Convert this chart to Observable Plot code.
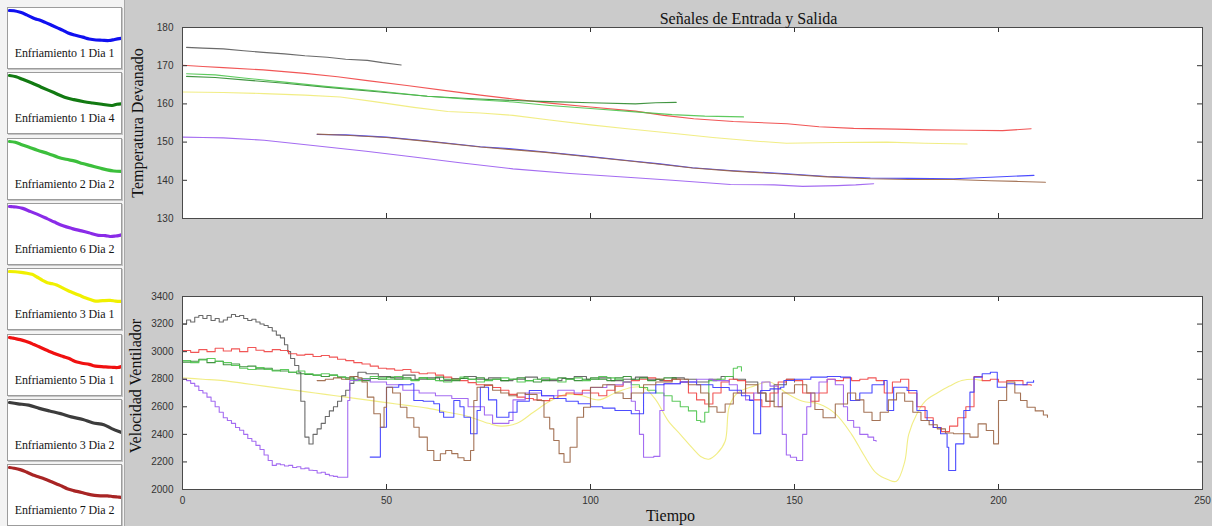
<!DOCTYPE html>
<html><head><meta charset="utf-8">
<script src="https://cdn.jsdelivr.net/npm/d3@7"></script>
<script src="https://cdn.jsdelivr.net/npm/@observablehq/plot@0.6"></script>
<style>
body{margin:0;background:#cccccc;}
#root{position:relative;width:1212px;height:526px;background:#cbcbcb;overflow:hidden;}
#legend{position:absolute;left:0;top:0;width:124px;height:526px;background:#f3f3f3;border-right:1px solid #a8a8a8;}
.btn{position:absolute;left:7px;width:113px;height:60px;background:#fff;border:1px solid #9c9c9c;box-shadow:1px 1px 0 #c4c4c4;overflow:hidden;}
.btn svg{position:absolute;left:0;top:0;}
.lbl{position:absolute;left:0;width:113px;top:38px;text-align:center;font:12px "Liberation Serif",serif;color:#151515;white-space:nowrap;letter-spacing:-0.1px;}
.panel{position:absolute;left:130px;}
</style></head>
<body>
<div id="root"><div id="legend"></div><div id="top" class="panel" style="top:0"></div><div id="bot" class="panel" style="top:270px"></div></div>
<script>
// ---- categories / labels ----
const runNames = ["Enfriamiento 1 Dia 1","Enfriamiento 1 Dia 4","Enfriamiento 2 Dia 2","Enfriamiento 6 Dia 2","Enfriamiento 3 Dia 1","Enfriamiento 5 Dia 1","Enfriamiento 3 Dia 2","Enfriamiento 7 Dia 2"];
const iconColors = ["#1010f0","#127a12","#3cbf3c","#8a2be8","#f0f000","#f01010","#3c3c3c","#a82424"];
const lineColors = ["#3838ff","#2e8a2e","#4cc44c","#9a5cf0","#efeb78","#f04444","#5a5a5a","#9a6444"];
const titleText = "Señales de Entrada y Salida";
const yLabelTop = "Temperatura Devanado";
const yLabelBot = "Velocidad Ventilador";
const xLabel = "Tiempo";
const timeTicks = [0,50,100,150,200,250];
const tempTicks = [130,140,150,160,170,180];
const fanTicks = [2000,2200,2400,2600,2800,3000,3200,3400];

// ---- temperature series [tiempo, temperatura] ----
const temp_1d1 = [[33,152.0],[40,151.9],[50,151.3],[60,150.3],[73,148.8],[80,148.3],[89,147.4],[100,146.2],[109,145.2],[117,144.3],[125,143.3],[135,142.5],[148,141.7],[158,141.0],[168.6,140.6],[178,140.5],[189,140.4],[198,140.8],[208.7,141.3]];
const temp_1d4 = [[1,167.2],[8,166.9],[15,166.3],[25,165.4],[35,164.4],[48.5,163.1],[60,162.0],[70,161.4],[81,160.9],[90,160.6],[100,160.3],[111,160.0],[116,160.3],[121,160.4]];
const temp_2d2 = [[1,167.9],[8,167.6],[15,166.8],[25,165.7],[35,164.6],[48.5,163.3],[60,162.0],[70,161.2],[81,160.5],[90,159.6],[100,158.8],[111,157.9],[120,157.2],[128,156.8],[137.5,156.6]];
const temp_6d2 = [[0,151.3],[5,151.2],[10,151.1],[20,150.5],[32,149.1],[45,147.6],[56.7,146.1],[68,144.6],[81,143.0],[95,141.8],[109,140.8],[120,140.0],[134.3,138.9],[145,138.8],[152,138.4],[160.5,138.6],[165,138.8],[169.4,139.1]];
const temp_3d1 = [[0,163.1],[10,163.0],[20,162.7],[30,162.3],[38.7,161.8],[47,160.6],[56.7,159.1],[65,158.0],[73,157.6],[81,157.0],[90,155.8],[100,154.5],[109,153.5],[120,152.3],[130,151.2],[140,150.3],[148,149.7],[160,149.9],[172.7,150.0],[182,149.7],[192.3,149.5]];
const temp_5d1 = [[0,170.1],[5,169.8],[10,169.5],[19.8,168.9],[30,168.0],[38,167.1],[45.3,166.1],[55,164.8],[65,163.4],[73,162.3],[81,161.3],[90,160.2],[100,159.2],[111,158.1],[118,157.0],[125.3,156.1],[135,155.4],[148.2,154.8],[156,154.0],[164.5,153.6],[175,153.4],[183.3,153.2],[192,153.1],[201,153.0],[208,153.5]];
const temp_3d2 = [[1,174.8],[5,174.6],[10,174.4],[15,173.9],[19.8,173.5],[25,173.1],[30,172.6],[35.5,172.2],[40,171.7],[45.3,171.4],[49,170.8],[53.6,170.2]];
const temp_7d2 = [[33,152.1],[40,151.8],[50,151.2],[60,150.2],[73,148.7],[80,148.1],[89,147.3],[100,146.1],[109,145.1],[117,144.2],[125,143.2],[135,142.4],[148,141.6],[158,140.9],[168.6,140.4],[178,140.2],[189,140.2],[198,139.9],[205,139.7],[211.5,139.5]];

// ---- fan speed series [tiempo, velocidad] ----
const fan_1d1 = [[46,2235],[48.5,2452],[50,2742],[53,2760],[56,2767],[56.7,2646],[59,2640],[61.6,2622],[63,2560],[64,2524],[66.5,2646],[68,2600],[69,2524],[70.6,2404],[72.2,2573],[73,2742],[75,2650],[77,2524],[80,2560],[82,2640],[85,2718],[88,2680],[91,2660],[94,2640],[97,2622],[100,2600],[103,2590],[106,2573],[110,2549],[113,2700],[116,2760],[118,2767],[122,2780],[126,2760],[130,2740],[134,2720],[137,2680],[139,2646],[140,2404],[141.7,2718],[144,2730],[146.6,2742],[147.4,2791],[150,2800],[154,2815],[158,2820],[161.3,2815],[163.7,2646],[166,2700],[169,2760],[171.9,2791],[172.7,2573],[174.3,2742],[177.6,2718],[180,2573],[182.5,2500],[184,2450],[185.8,2404],[187.4,2307],[187.8,2138],[189,2138],[189.5,2331],[191.5,2573],[193,2706],[194,2815],[196,2840],[198,2851],[199.7,2742],[202,2767],[204,2760],[207,2778],[208.6,2791]];
const fan_1d4 = [[0,2924],[2,2930],[4,2945],[6,2920],[8,2930],[10,2905],[12,2910],[14,2890],[16,2895],[18,2875],[20,2880],[22,2865],[24,2860],[26,2850],[28,2840],[30,2835],[32,2830],[34,2820],[36,2830],[38,2815],[40,2810],[42,2800],[44,2790],[46,2805],[48,2800],[50,2815],[52,2800],[54,2810],[56,2795],[58,2810],[60,2800],[62,2815],[64,2800],[66,2790],[68,2805],[70,2800],[72,2810],[74,2795],[76,2800],[78,2790],[80,2800],[82,2810],[84,2790],[86,2780],[88,2790],[90,2800],[92,2810],[94,2800],[96,2790],[98,2800],[100,2810],[102,2800],[104,2790],[106,2810],[108,2820],[110,2800],[112,2810],[114,2790],[116,2800],[118,2810],[121,2800]];
const fan_2d2 = [[0,2935],[2,2920],[4,2940],[6,2950],[8,2930],[10,2920],[12,2900],[14,2880],[16,2870],[18,2885],[20,2870],[22,2860],[24,2870],[26,2850],[28,2860],[30,2840],[32,2830],[34,2840],[36,2830],[38,2815],[40,2800],[42,2790],[44,2805],[46,2820],[48,2810],[50,2800],[52,2820],[54,2800],[56,2790],[58,2810],[60,2800],[62,2790],[64,2780],[66,2800],[68,2815],[70,2800],[72,2780],[74,2790],[76,2800],[78,2810],[80,2800],[82,2780],[84,2790],[86,2800],[88,2810],[90,2800],[92,2780],[94,2800],[96,2810],[98,2790],[100,2800],[102,2820],[104,2810],[106,2800],[108,2780],[110,2760],[112,2740],[114,2720],[116,2700],[118,2680],[120,2640],[122,2600],[124,2570],[126,2500],[127,2490],[128,2560],[129,2790],[131,2800],[133,2820],[135,2880],[136,2890],[137,2860]];
const fan_6d2 = [[0,2800],[1,2790],[2,2770],[3,2750],[4,2718],[5,2700],[6,2670],[7,2640],[8,2600],[9,2560],[10,2520],[11,2500],[12,2480],[13,2450],[14,2430],[15,2400],[16,2370],[17,2350],[18,2320],[19,2290],[20,2250],[21,2210],[22,2175],[23,2186],[24,2180],[25,2170],[26,2175],[27,2160],[28,2165],[29,2150],[30,2155],[31,2140],[32,2138],[33,2120],[34,2125],[35,2110],[36,2100],[37,2095],[38,2089],[40.5,2646],[41,2791],[43,2800],[46,2780],[50,2760],[54,2720],[58,2700],[62,2680],[66,2660],[70,2600],[74,2540],[76,2480],[80,2500],[81,2650],[84,2700],[88,2680],[92,2720],[96,2700],[100,2740],[104,2760],[108,2780],[110,2640],[111,2573],[112,2400],[113,2234],[115.5,2240],[117,2573],[118,2767],[122,2780],[126,2800],[130,2790],[134,2760],[136,2700],[138,2650],[140,2700],[142,2780],[144,2750],[146,2600],[147,2400],[148,2250],[149,2234],[150.5,2210],[152,2400],[153,2600],[154,2700],[156,2780],[158,2800],[160,2760],[162,2600],[163,2500],[164.5,2452],[166,2400],[168,2380],[169.4,2355],[170,2350]];
const fan_3d1 = [[0,2810],[5,2800],[10,2790],[15,2770],[20,2750],[25,2730],[30,2710],[35,2690],[40,2670],[45,2650],[50,2630],[55,2610],[60,2590],[65,2560],[70,2530],[75,2480],[78,2460],[82,2480],[86,2560],[90,2640],[94,2690],[98,2680],[102,2650],[106,2700],[110,2740],[113,2740],[116,2650],[119,2500],[122,2400],[125,2300],[127,2240],[129,2220],[131,2260],[133,2350],[134,2600],[136,2700],[140,2750],[144,2780],[148,2700],[152,2640],[156,2620],[160,2550],[164,2400],[167,2250],[170,2120],[173,2070],[175,2060],[177,2200],[178,2400],[180,2550],[182,2640],[185,2700],[188,2750],[191,2790],[194,2800],[196,2790]];
const fan_5d1 = [[0,3008],[2,2995],[4,3015],[6,3000],[8,3025],[10,3005],[12,3020],[14,3000],[16,3030],[18,3010],[20,3000],[22,3015],[24,3008],[26,2985],[28,2975],[30,2980],[32,2965],[34,2972],[36,2960],[38,2945],[40,2935],[42,2920],[44,2910],[46,2895],[48,2880],[50,2875],[52,2865],[54,2870],[56,2850],[58,2840],[60,2845],[62,2830],[64,2815],[66,2800],[68,2790],[70,2775],[72,2760],[74,2755],[76,2740],[78,2720],[80,2690],[82,2670],[84,2660],[86,2650],[88,2645],[90,2660],[92,2680],[94,2700],[96,2690],[98,2720],[100,2700],[102,2680],[104,2720],[106,2750],[108,2780],[110,2790],[112,2800],[114,2810],[116,2800],[118,2790],[120,2800],[122,2780],[124,2700],[126,2650],[128,2620],[130,2700],[132,2780],[134,2800],[136,2790],[138,2700],[140,2650],[142,2600],[144,2700],[146,2780],[148,2800],[150,2790],[152,2700],[154,2640],[156,2700],[158,2800],[160,2790],[162,2810],[164,2790],[166,2800],[168,2810],[170,2790],[172,2700],[174,2780],[176,2800],[178,2700],[180,2600],[182,2520],[184,2450],[186,2420],[188,2460],[190,2520],[192,2600],[194,2820],[196,2790],[198,2800],[200,2780],[202,2790],[204,2790],[206,2760],[208,2755]];
const fan_3d2 = [[0,3200],[1,3230],[2,3215],[3,3250],[4,3262],[5,3240],[6,3262],[7,3226],[8,3240],[9,3215],[10,3230],[11,3250],[12,3269],[13,3255],[14,3262],[15,3240],[16,3226],[17,3235],[18,3215],[19,3200],[20,3190],[21,3175],[22,3150],[23,3120],[24,3100],[25,3050],[25.8,3000],[26.5,2950],[27.5,2900],[28.5,2850],[29,2640],[30,2380],[31,2330],[32,2400],[33,2440],[34,2480],[35,2530],[36,2570],[37,2600],[38,2640],[39,2680],[40,2720],[41,2770],[42,2820],[43,2850],[45,2840],[48,2820],[51,2810],[54,2830],[57,2800],[60,2810],[63,2790],[66,2805],[69,2820],[72,2800],[75,2810],[78,2790],[81,2800],[84,2815],[87,2800],[90,2790],[93,2805],[96,2820],[99,2800],[102,2810],[105,2790],[108,2800],[111,2815],[114,2800],[117,2790],[120,2810],[123,2800],[126,2780],[129,2800],[132,2820],[135,2800],[138,2780],[141,2700],[143,2640],[145,2760],[148,2800],[150,2780]];
const fan_7d2 = [[33,2790],[35,2800],[37,2810],[39,2800],[41,2820],[43,2810],[44,2780],[45.3,2670],[46.9,2549],[48.5,2452],[49.4,2597],[50,2742],[51.5,2700],[53.4,2597],[55,2520],[56.7,2452],[58,2380],[60,2283],[61.6,2210],[63.2,2259],[64.5,2283],[66,2260],[67.5,2230],[69,2210],[70.6,2283],[71.4,2646],[72.2,2742],[74,2760],[76,2720],[78,2700],[80,2680],[82,2700],[84,2690],[86.9,2646],[88.6,2524],[90,2440],[91,2355],[92.3,2260],[93.5,2198],[95,2307],[96.7,2524],[98.3,2597],[100,2742],[103,2760],[106,2700],[108,2660],[110,2700],[113,2760],[116,2780],[120,2800],[124,2760],[127,2700],[129,2600],[131,2560],[133,2620],[135,2700],[138,2760],[141,2700],[143,2640],[145,2600],[147,2700],[150,2760],[153,2700],[155,2580],[157,2520],[160,2620],[163,2700],[165,2650],[167,2560],[169,2500],[171,2560],[173,2650],[175,2700],[177,2640],[179,2560],[181,2500],[183,2470],[185,2440],[187,2410],[189,2404],[191,2404],[193,2380],[195,2476],[197,2428],[198.8,2331],[200,2646],[202,2780],[204,2700],[205.4,2646],[207,2597],[209,2570],[211,2540],[212,2524]];

const tempSeries = [temp_1d1, temp_1d4, temp_2d2, temp_6d2, temp_3d1, temp_5d1, temp_3d2, temp_7d2];
const fanSeries  = [fan_1d1, fan_1d4, fan_2d2, fan_6d2, fan_3d1, fan_5d1, fan_3d2, fan_7d2];
const drawOrder = [4, 6, 5, 1, 2, 3, 0, 7];

const rows = (arr, i) => arr.map(([t, v]) => ({t, v, run: runNames[i]}));
const serif = "'Liberation Serif', 'Times New Roman', serif";
const sans = "'Liberation Sans', Arial, sans-serif";
const fmt = d => String(d);

// ---- legend buttons ----
const legend = document.getElementById("legend");
runNames.forEach((name, i) => {
  const b = document.createElement("div");
  b.className = "btn";
  b.style.top = (7 + i * 65.3) + "px";
  const icon = Plot.plot({
    width: 113, height: 36, marginTop: 2, marginBottom: 4, marginLeft: 1, marginRight: 0,
    style: {background: "transparent"},
    x: {axis: null}, y: {axis: null},
    marks: [Plot.line(rows(tempSeries[i], i), {x: "t", y: "v", stroke: iconColors[i], strokeWidth: 3.2, curve: "catmull-rom"})]
  });
  b.appendChild(icon);
  const l = document.createElement("div");
  l.className = "lbl";
  l.textContent = name;
  b.appendChild(l);
  legend.appendChild(b);
});

// ---- shared axis decorations ----
function decor(xTicks, yTicks, frameW, frameH) {
  return [
    Plot.tickX(xTicks, {x: d => d, insetTop: frameH - 5, stroke: "#333"}),
    Plot.tickX(xTicks, {x: d => d, insetBottom: frameH - 5, stroke: "#333"}),
    Plot.tickY(yTicks, {y: d => d, insetRight: frameW - 5, stroke: "#333"}),
    Plot.tickY(yTicks, {y: d => d, insetLeft: frameW - 5, stroke: "#333"}),
    Plot.frame({stroke: "#4a4a4a", strokeWidth: 1})
  ];
}

// ---- top: temperatura ----
const topPlot = Plot.plot({
  width: 1080, height: 226,
  marginLeft: 52, marginRight: 8, marginTop: 27, marginBottom: 8,
  style: {background: "transparent", overflow: "visible"},
  x: {domain: [0, 250], axis: null},
  y: {domain: [130, 180], axis: null},
  marks: [
    Plot.frame({fill: "white", stroke: null}),
    ...drawOrder.map(i => Plot.line(rows(tempSeries[i], i), {x: "t", y: "v", stroke: lineColors[i], strokeWidth: 1.1, strokeOpacity: 0.9})),
    Plot.axisY(tempTicks, {tickSize: 0, tickPadding: 9, fontSize: 10, fontFamily: sans, color: "#333", label: null, tickFormat: fmt}),
    ...decor(timeTicks, tempTicks, 1020, 191),
    Plot.text([yLabelTop], {frameAnchor: "left", text: d => d, rotate: -90, dx: -45, textAnchor: "middle", lineAnchor: "middle", fontSize: 16, fontFamily: serif, fill: "#111"}),
    Plot.text([titleText], {frameAnchor: "top", text: d => d, dx: 56, dy: -9, textAnchor: "middle", lineAnchor: "middle", fontSize: 16, fontFamily: serif, fill: "#111"})
  ]
});
document.getElementById("top").appendChild(topPlot);

// ---- bottom: velocidad ----
const botPlot = Plot.plot({
  width: 1080, height: 259,
  marginLeft: 52, marginRight: 8, marginTop: 26, marginBottom: 40,
  style: {background: "transparent", overflow: "visible"},
  x: {domain: [0, 250], axis: null},
  y: {domain: [2000, 3400], axis: null},
  marks: [
    Plot.frame({fill: "white", stroke: null}),
    ...drawOrder.map(i => Plot.line(rows(fanSeries[i], i), {x: "t", y: "v", stroke: lineColors[i], strokeWidth: 1.1, strokeOpacity: 0.9, curve: i === 4 ? "catmull-rom" : "step-after"})),
    Plot.axisY(fanTicks, {tickSize: 0, tickPadding: 9, fontSize: 10, fontFamily: sans, color: "#333", label: null, tickFormat: fmt}),
    Plot.axisX(timeTicks, {tickSize: 0, tickPadding: 7, fontSize: 10, fontFamily: sans, color: "#333", label: null, tickFormat: fmt}),
    ...decor(timeTicks, fanTicks, 1020, 193),
    Plot.text([yLabelBot], {frameAnchor: "left", text: d => d, rotate: -90, dx: -47, dy: -7, textAnchor: "middle", lineAnchor: "middle", fontSize: 16, fontFamily: serif, fill: "#111"}),
    Plot.text([xLabel], {frameAnchor: "bottom", text: d => d, dx: -22, dy: 26, textAnchor: "middle", lineAnchor: "middle", fontSize: 16, fontFamily: serif, fill: "#111"})
  ]
});
document.getElementById("bot").appendChild(botPlot);
</script>
</body></html>
